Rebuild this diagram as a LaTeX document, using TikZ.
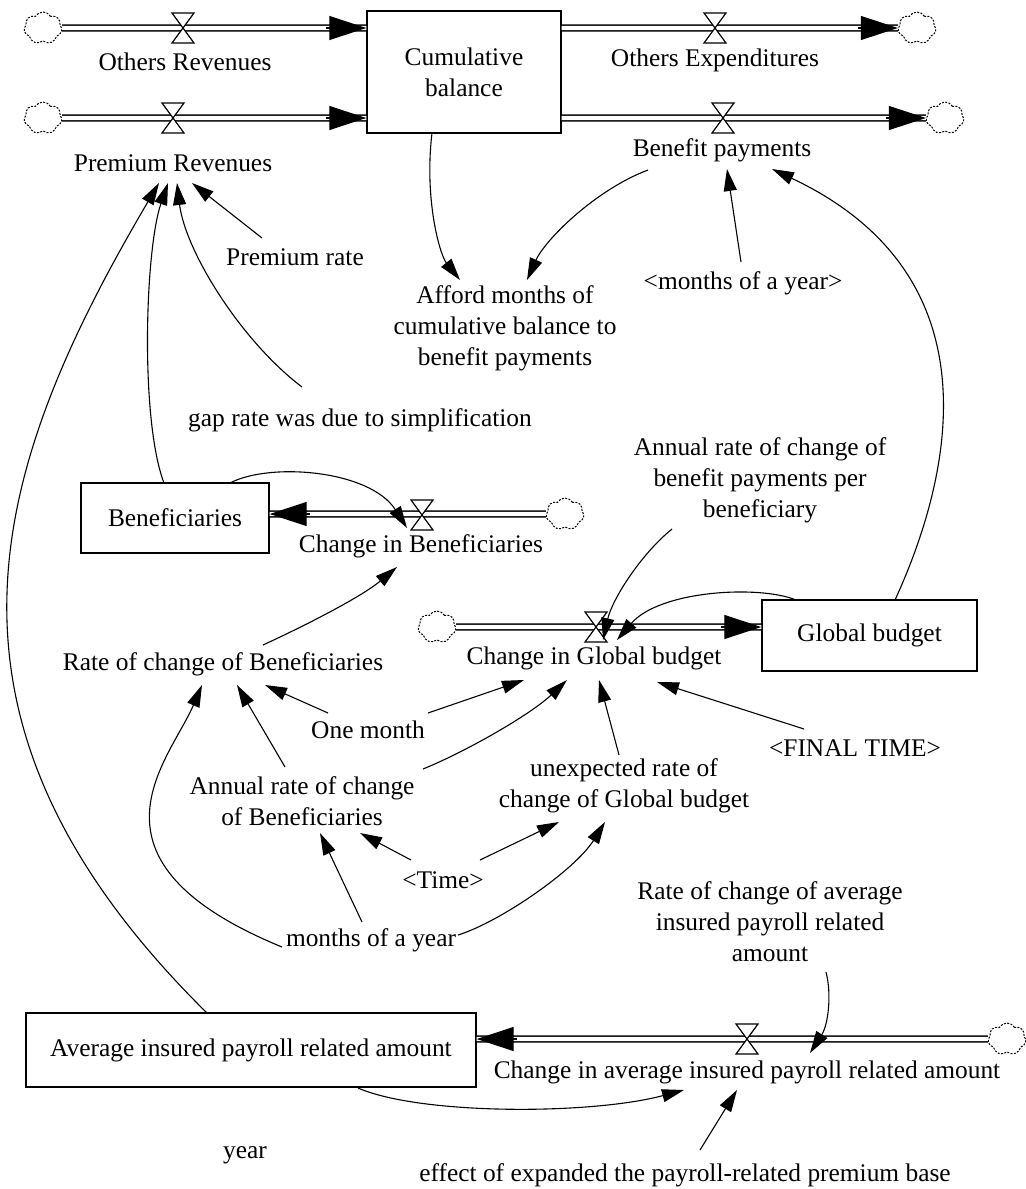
\documentclass[tikz,border=0pt]{standalone}
\usepackage{fontspec}
\setmainfont{Liberation Serif}
\usetikzlibrary{arrows.meta}
\usetikzlibrary{shapes.symbols}

\begin{document}
\begin{tikzpicture}[x=0.5pt,y=-0.5pt,
        font=\fontsize{12.7}{15.5}\selectfont,
        stock/.style={draw,line width=0.7pt,align=center,inner sep=0pt},
        var/.style={align=center,inner sep=1pt},
        src/.style={cloud,cloud puffs=7,cloud puff arc=120,aspect=1.2,draw,fill=white,line width=0.5pt,dash pattern=on 1pt off 0.7pt,minimum width=19pt,minimum height=16pt,inner sep=0pt},
        pipe/.style={double,line width=0.7pt,double distance=2.2pt},
        pipetip/.style={-{Triangle[length=18.5pt,width=12pt]},line width=0.6pt},
        link/.style={-{Triangle[length=11pt,width=6.5pt]},line width=0.55pt},
        valve/.pic={\draw[fill=white,line width=0.6pt] (-11,-15) -- (11,-15) -- (-11,15) -- (11,15) -- cycle;}]
        \useasboundingbox (0,0) rectangle (1025,1189);

        \node[stock,minimum width=97pt,minimum height=61pt] (cumbal) at (464,72) {Cumulative\\balance};
        \node[stock,minimum width=94pt,minimum height=35pt] (benef) at (175,518) {Beneficiaries};
        \node[stock,minimum width=107.5pt,minimum height=35.5pt] (global) at (869.5,635.5) {Global budget};
        \node[stock,minimum width=225pt,minimum height=37pt] (avgpay) at (251,1050) {Average insured payroll related amount};

        \node[src] (srcothrev) at (43,28) {};
        \node[src] (srcprem) at (43,118) {};
        \node[src] (sinkothexp) at (917,28) {};
        \node[src] (sinkbenpay) at (945,118) {};
        \node[src] (srcchben) at (565,514) {};
        \node[src] (srcchglob) at (437,627) {};
        \node[src] (srcchavg) at (1007,1039) {};

        \coordinate (inothrev) at (srcothrev -| cumbal.west);
        \coordinate (inprem) at (srcprem -| cumbal.west);
        \coordinate (outothexp) at (cumbal.east |- sinkothexp);
        \coordinate (outbenpay) at (cumbal.east |- sinkbenpay);
        \coordinate (inbenef) at (srcchben -| benef.east);
        \coordinate (inglobal) at (srcchglob -| global.west);
        \coordinate (inavgpay) at (srcchavg -| avgpay.east);

        \draw[pipe] (srcothrev.east) -- (inothrev);
        \draw[pipetip] ([xshift=-20pt]inothrev) -- (inothrev);
        \draw[pipe] (srcprem.east) -- (inprem);
        \draw[pipetip] ([xshift=-20pt]inprem) -- (inprem);
        \draw[pipe] (outothexp) -- (sinkothexp.west);
        \draw[pipetip] ([xshift=-20pt]sinkothexp.west) -- (sinkothexp.west);
        \draw[pipe] (outbenpay) -- (sinkbenpay.west);
        \draw[pipetip] ([xshift=-20pt]sinkbenpay.west) -- (sinkbenpay.west);
        \draw[pipe] (srcchben.west) -- (inbenef);
        \draw[pipetip] ([xshift=20pt]inbenef) -- (inbenef);
        \draw[pipe] (srcchglob.east) -- (inglobal);
        \draw[pipetip] ([xshift=-20pt]inglobal) -- (inglobal);
        \draw[pipe] (srcchavg.west) -- (inavgpay);
        \draw[pipetip] ([xshift=20pt]inavgpay) -- (inavgpay);

        \pic at (183,28) {valve};
        \pic at (173,118) {valve};
        \pic at (715,28) {valve};
        \pic at (723,118) {valve};
        \pic at (422,515) {valve};
        \pic at (596,627) {valve};
        \pic at (747,1039) {valve};

        \node[var] (othrev) at (185,62) {Others Revenues};
        \node[var] (premrev) at (173,163) {Premium Revenues};
        \node[var] (othexp) at (715,60) {Others Expenditures};
        \node[var] (benpay) at (722,150) {Benefit payments};
        \node[var] (chben) at (421,546) {Change in Beneficiaries};
        \node[var] (chglob) at (594,658) {Change in Global budget};
        \node[var] (chavg) at (747,1072) {Change in average insured payroll related amount};

        \node[var] (premrate) at (295,257) {Premium rate};
        \node[var] (afford) at (505,328) {Afford months of\\cumulative balance to\\benefit payments};
        \node[var] (monthsref) at (743,283) {<months of a year>};
        \node[var] (gaprate) at (360,420) {gap rate was due to simplification};
        \node[var] (annbenpay) at (760,480) {Annual rate of change of\\benefit payments per\\beneficiary};
        \node[var] (rateben) at (223,664) {Rate of change of Beneficiaries};
        \node[var] (onemonth) at (368,730) {One month};
        \node[var] (annben) at (302,801) {Annual rate of change\\of Beneficiaries};
        \node[var] (unexp) at (624,786) {unexpected rate of\\change of Global budget};
        \node[var] (finaltime) at (855,748) {<FINAL TIME>};
        \node[var] (timeref) at (443,880) {<Time>};
        \node[var] (monthsyr) at (371,940) {months of a year};
        \node[var] (rateavg) at (770,922) {Rate of change of average\\insured payroll related\\amount};
        \node[var] (year) at (245,1155) {year};
        \node[var] (effect) at (685,1175) {effect of expanded the payroll-related premium base};

        \draw[link] ([shift={(-32,61)}]cumbal.center) .. controls (424,200) and (440,255) .. ([shift={(-45,-48)}]afford.center);
        \draw[link] ([shift={(-74,20)}]benpay.center) .. controls (595,190) and (545,240) .. ([shift={(22,-48)}]afford.center);
        \draw[link] ([shift={(-2,-21)}]monthsref.center) -- ([shift={(5,19)}]benpay.center);
        \draw[link] ([shift={(25.5,-35.5)}]global.center) .. controls (950,480) and (1001,277) .. ([shift={(50,19)}]benpay.center);
        \draw[link] ([shift={(-33,-19)}]premrate.center) -- ([shift={(19,20)}]premrev.center);
        \draw[link] ([shift={(-58,-33)}]gaprate.center) .. controls (240,340) and (185,250) .. ([shift={(4,20)}]premrev.center);
        \draw[link] ([shift={(-11,-35)}]benef.center) .. controls (140,420) and (145,250) .. ([shift={(-5,20)}]premrev.center);
        \draw[link] ([shift={(-44,-37)}]avgpay.center) .. controls (-90,720) and (-10,470) .. ([shift={(-14,20)}]premrev.center);
        \draw[link] ([shift={(55,-35)}]benef.center) .. controls (270,462) and (370,470) .. ([shift={(-14,-18)}]chben.center);
        \draw[link] ([shift={(40,-19)}]rateben.center) .. controls (300,628) and (360,598) .. ([shift={(-24,21)}]chben.center);
        \draw[link] ([shift={(-88,49)}]annbenpay.center) .. controls (640,555) and (612,600) .. ([shift={(9,-18)}]chglob.center);
        \draw[link] ([shift={(-73.5,-35.5)}]global.center) .. controls (760,585) and (660,590) .. ([shift={(23,-18)}]chglob.center);
        \draw[link] ([shift={(-40,-17)}]onemonth.center) -- ([shift={(42,21)}]rateben.center);
        \draw[link] ([shift={(60,-17)}]onemonth.center) -- ([shift={(-70,22)}]chglob.center);
        \draw[link] ([shift={(-17,-34)}]annben.center) -- ([shift={(14,21)}]rateben.center);
        \draw[link] ([shift={(121,-32)}]annben.center) .. controls (465,752) and (530,715) .. ([shift={(-27,22)}]chglob.center);
        \draw[link] ([shift={(-5,-31)}]unexp.center) -- ([shift={(5,22)}]chglob.center);
        \draw[link] ([shift={(-51,-19)}]finaltime.center) -- ([shift={(63,24)}]chglob.center);
        \draw[link] ([shift={(-32,-20)}]timeref.center) -- ([shift={(58,32)}]annben.center);
        \draw[link] ([shift={(37,-20)}]timeref.center) -- ([shift={(-65,36)}]unexp.center);
        \draw[link] ([shift={(-9,-18)}]monthsyr.center) -- ([shift={(18,32)}]annben.center);
        \draw[link] ([shift={(87,-5)}]monthsyr.center) .. controls (500,922) and (575,870) .. ([shift={(-19,36)}]unexp.center);
        \draw[link] ([shift={(-89,7)}]monthsyr.center) .. controls (70,860) and (170,760) .. ([shift={(-21,21)}]rateben.center);
        \draw[link] ([shift={(56,50)}]rateavg.center) .. controls (832,995) and (828,1025) .. ([shift={(63,-19)}]chavg.center);
        \draw[link] ([shift={(107,38)}]avgpay.center) .. controls (420,1115) and (590,1115) .. ([shift={(-63,18)}]chavg.center);
        \draw[link] ([shift={(15,-25)}]effect.center) -- ([shift={(-10,18)}]chavg.center);
        \end{tikzpicture}
\end{document}
